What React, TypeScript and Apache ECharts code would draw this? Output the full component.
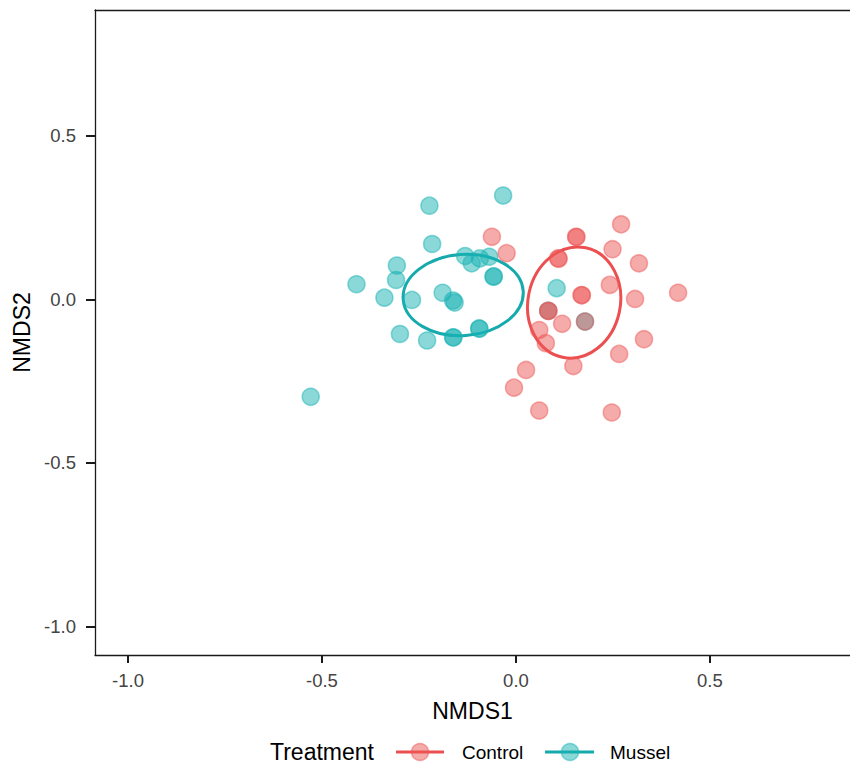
import React, { useEffect, useRef } from "react";
import * as echarts from "echarts";

// Mussel (teal) NMDS scores
const musselPoints: number[][] = [
  [-0.033, 0.317], [-0.223, 0.286], [-0.216, 0.169], [-0.307, 0.103], [-0.309, 0.059],
  [-0.411, 0.046], [-0.339, 0.005], [-0.268, -0.002], [-0.189, 0.020],
  [-0.162, -0.004], [-0.158, -0.010], [-0.058, 0.069], [-0.057, 0.070],
  [-0.131, 0.132], [-0.114, 0.110], [-0.093, 0.125], [-0.069, 0.130],
  [-0.299, -0.106], [-0.229, -0.126], [-0.162, -0.116], [-0.161, -0.117],
  [-0.095, -0.089], [-0.094, -0.090], [-0.529, -0.298], [0.105, 0.034],
  [0.178, -0.068], [0.083, -0.035],
];

// Control (red) NMDS scores
const controlPoints: number[][] = [
  [0.271, 0.229], [0.155, 0.191], [0.156, 0.190], [-0.062, 0.191], [-0.024, 0.141],
  [0.249, 0.153], [0.109, 0.125], [0.110, 0.124], [0.317, 0.110], [0.169, 0.013],
  [0.170, 0.012], [0.242, 0.044], [0.307, 0.001], [0.418, 0.020], [0.083, -0.035],
  [0.084, -0.036], [0.119, -0.075], [0.178, -0.068], [0.060, -0.094], [0.077, -0.134],
  [0.330, -0.122], [0.266, -0.167], [0.148, -0.204], [0.026, -0.216], [-0.005, -0.270],
  [0.060, -0.340], [0.247, -0.346],
];

// Ellipses: [centerX, centerY, radiusX, radiusY, rotationDeg]
const musselEllipse: number[][] = [[-0.136, 0.013, 0.155, 0.124, 4]];
const controlEllipse: number[][] = [[0.150, -0.010, 0.119, 0.171, -12]];

const xTicks = [-1.0, -0.5, 0.0, 0.5];
const yTicks = [-1.0, -0.5, 0.0, 0.5];
const legendLabels = ["Control", "Mussel"];

const RED_LINE = "#EC4F4F";
const TEAL_LINE = "#17AAAD";
const RED_PT = "rgba(238,88,88,0.5)";
const TEAL_PT = "rgba(23,178,180,0.5)";
const FONT = "'Liberation Sans', Arial, sans-serif";
const X_MIN = -1.085;
const X_MAX = 0.861;

function ellipseSeries(data: number[][], color: string) {
  return {
    type: "custom",
    data,
    z: 1,
    silent: true,
    encode: { x: 0, y: 1 },
    renderItem: (_params: any, api: any) => {
      const c = api.coord([api.value(0), api.value(1)]);
      const s = api.size([api.value(2), api.value(3)]);
      return {
        type: "ellipse",
        x: c[0],
        y: c[1],
        rotation: (api.value(4) * Math.PI) / 180,
        shape: { cx: 0, cy: 0, rx: s[0], ry: s[1] },
        style: { fill: "none", stroke: color, lineWidth: 3 },
      };
    },
  };
}

function scatterSeries(name: string, data: number[][], fill: string) {
  return {
    name,
    type: "scatter",
    data,
    z: 3,
    symbol: "circle",
    symbolSize: 17,
    itemStyle: { color: fill, borderColor: fill, borderWidth: 1.5, opacity: 1 },
    emphasis: { disabled: true },
  };
}

export default function App() {
  const ref = useRef<HTMLDivElement>(null);
  useEffect(() => {
    if (!ref.current) return;
    const chart = echarts.init(ref.current, undefined, { renderer: "svg" });
    const fmt = (v: number) => v.toFixed(1);
    const legendY = 752;
    chart.setOption({
      animation: false,
      backgroundColor: "#ffffff",
      textStyle: { fontFamily: FONT },
      grid: {
        left: 95,
        top: 10,
        right: 0,
        bottom: 111,
        show: false,
      },
      xAxis: [
        {
          type: "value",
          min: X_MIN,
          max: X_MAX,
          name: "NMDS1",
          nameLocation: "middle",
          nameGap: 56,
          nameTextStyle: { fontSize: 23, color: "#000", fontFamily: FONT, verticalAlign: "middle" },
          splitLine: { show: false },
          axisLine: { show: true, onZero: false, lineStyle: { color: "#1a1a1a", width: 1.3 } },
          axisTick: { show: true, length: 8, customValues: xTicks, lineStyle: { color: "#1a1a1a", width: 2 } },
          axisLabel: {
            customValues: xTicks,
            formatter: fmt,
            fontSize: 18.5,
            color: "#444",
            margin: 16,
            fontFamily: FONT,
          },
        },
        {
          type: "value",
          position: "top",
          min: X_MIN,
          max: X_MAX,
          splitLine: { show: false },
          axisLine: { show: true, onZero: false, lineStyle: { color: "#1a1a1a", width: 1.3 } },
          axisTick: { show: false },
          axisLabel: { show: false },
        },
      ],
      yAxis: {
        type: "value",
        min: -1.087,
        max: 0.884,
        name: "NMDS2",
        nameLocation: "middle",
        nameRotate: 90,
        nameGap: 72,
        nameTextStyle: { fontSize: 23, color: "#000", fontFamily: FONT, verticalAlign: "middle" },
        splitLine: { show: false },
        axisLine: { show: true, onZero: false, lineStyle: { color: "#1a1a1a", width: 1.3 } },
        axisTick: { show: true, length: 9, customValues: yTicks, lineStyle: { color: "#1a1a1a", width: 2 } },
        axisLabel: {
          customValues: yTicks,
          formatter: fmt,
          fontSize: 18.5,
          color: "#444",
          margin: 19,
          fontFamily: FONT,
        },
      },
      series: [
        ellipseSeries(musselEllipse, TEAL_LINE),
        ellipseSeries(controlEllipse, RED_LINE),
        scatterSeries("Mussel", musselPoints, TEAL_PT),
        scatterSeries("Control", controlPoints, RED_PT),
      ],
      graphic: [
        {
          type: "text",
          x: 270,
          y: legendY,
          style: { text: "Treatment", font: `23px ${FONT}`, fill: "#000", verticalAlign: "middle", align: "left" },
        },
        { type: "line", shape: { x1: 396, y1: legendY, x2: 444, y2: legendY }, style: { stroke: RED_LINE, lineWidth: 3 } },
        { type: "circle", shape: { cx: 420, cy: legendY, r: 8.5 }, style: { fill: RED_PT, stroke: RED_PT, lineWidth: 1.5 } },
        {
          type: "text",
          x: 462,
          y: legendY,
          style: { text: legendLabels[0], font: `19px ${FONT}`, fill: "#000", verticalAlign: "middle", align: "left" },
        },
        { type: "line", shape: { x1: 545, y1: legendY, x2: 594, y2: legendY }, style: { stroke: TEAL_LINE, lineWidth: 3 } },
        { type: "circle", shape: { cx: 570, cy: legendY, r: 8.5 }, style: { fill: TEAL_PT, stroke: TEAL_PT, lineWidth: 1.5 } },
        {
          type: "text",
          x: 610,
          y: legendY,
          style: { text: legendLabels[1], font: `19px ${FONT}`, fill: "#000", verticalAlign: "middle", align: "left" },
        },
      ],
    });
    return () => chart.dispose();
  }, []);
  return (
    <div
      ref={ref}
      style={{ position: "absolute", left: 0, top: 0, width: 850, height: 766, background: "#fff" }}
    />
  );
}
